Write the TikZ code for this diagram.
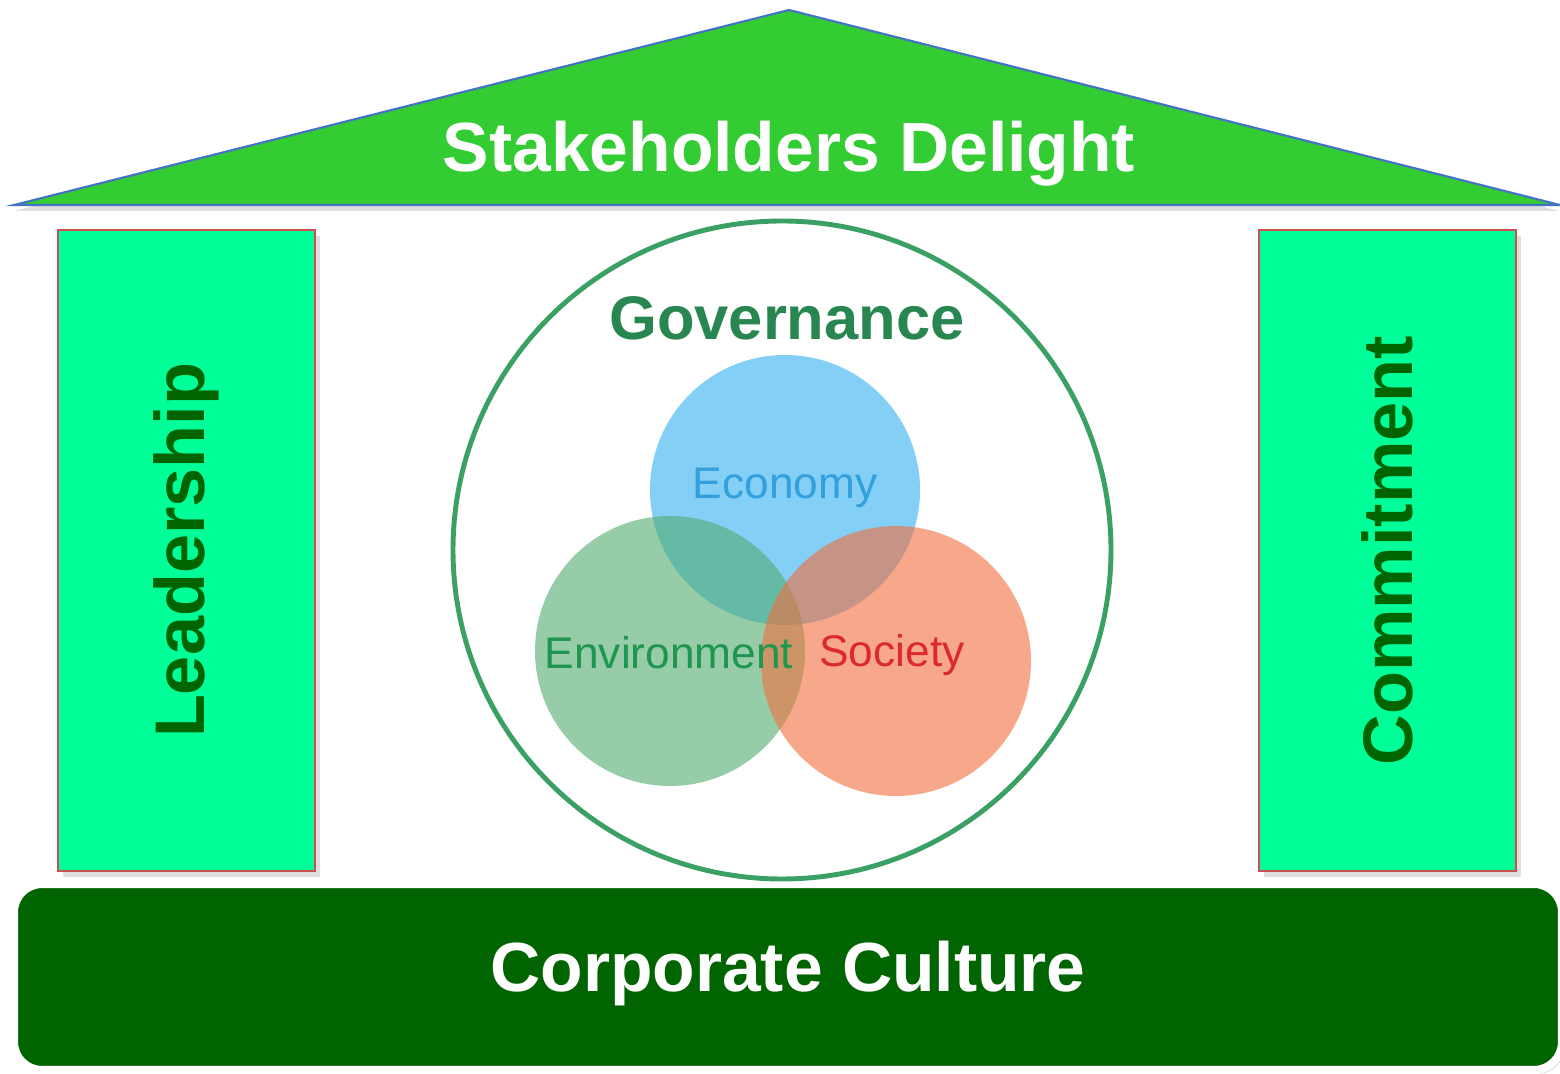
\documentclass[tikz,border=0pt]{standalone}
\usepackage{fontspec}
\setmainfont{Liberation Sans}
\usepackage{tikz}
\usetikzlibrary{shadows}

\definecolor{roofgreen}{RGB}{51,204,51}
\definecolor{roofline}{RGB}{68,114,196}
\definecolor{pillargreen}{RGB}{0,255,153}
\definecolor{pillarline}{RGB}{204,80,80}
\definecolor{darkgreen}{RGB}{0,100,0}
\definecolor{ringgreen}{RGB}{58,160,100}
\definecolor{govgreen}{RGB}{40,135,80}
\definecolor{ecoblue}{RGB}{50,175,240}
\definecolor{envgreen}{RGB}{80,172,110}
\definecolor{socred}{RGB}{242,110,62}
\definecolor{ecotext}{RGB}{50,160,220}
\definecolor{envtext}{RGB}{30,150,80}
\definecolor{soctext}{RGB}{220,40,50}

\tikzset{
  pillar/.style={draw=pillarline, line width=0.5pt, fill=pillargreen, rotate=90,
    minimum width=64.1mm, minimum height=25.7mm, inner sep=0pt,
    text=darkgreen, font=\fontsize{20}{24}\selectfont\bfseries,
    drop shadow={opacity=0.25, shadow xshift=0.5mm, shadow yshift=-0.6mm}},
  venn/.style={circle, minimum size=27mm, inner sep=0pt, fill opacity=0.6},
  venntext/.style={font=\fontsize{12.6}{15}\selectfont}
}

\begin{document}
\begin{tikzpicture}[x=0.1mm, y=-0.1mm]
\useasboundingbox (0,0) rectangle (1560,1074);

% roof
\draw [roofline, line width=0.6pt, fill=roofgreen,
  drop shadow={opacity=0.25, shadow xshift=0mm, shadow yshift=-0.6mm}]
  (14,205) -- (789,10) -- (1560,205) -- cycle;
\node [white, font=\fontsize{19.8}{24}\selectfont\bfseries] (roof) at (789,154) {Stakeholders Delight};

% pillars
\node [pillar] (lead) at (186.5,550.5) {Leadership};
\node [pillar] (commit) at (1387.5,550.5) {Commitment};

% base
\node [draw=white, line width=2.3pt, fill=darkgreen, rounded corners=2.8mm,
  minimum width=154.8mm, minimum height=18.6mm, inner sep=0pt,
  drop shadow={opacity=0.3, shadow xshift=0.3mm, shadow yshift=-0.4mm}] (base) at (788,977) {};
\node [white, font=\fontsize{19.8}{24}\selectfont\bfseries] (culture) at (788,974) {Corporate Culture};

% governance ring
\node [circle, draw=ringgreen, line width=1.4pt, fill=white, minimum size=65.8mm, inner sep=0pt] (ring) at (782,550) {};
\node [govgreen, font=\fontsize{17.5}{21}\selectfont\bfseries] (gov) at (787,318) {Governance};

% venn circles
\node [venn, fill=ecoblue] (eco) at (785,490) {};
\node [venn, fill=envgreen] (env) at (670,651) {};
\node [venn, fill=socred] (soc) at (896,661) {};

\node [venntext, ecotext] (ecolabel) at (785,488) {Economy};
\node [venntext, envtext] (envlabel) at (669,653) {Environment};
\node [venntext, soctext] (soclabel) at (892,655) {Society};

\end{tikzpicture}
\end{document}
